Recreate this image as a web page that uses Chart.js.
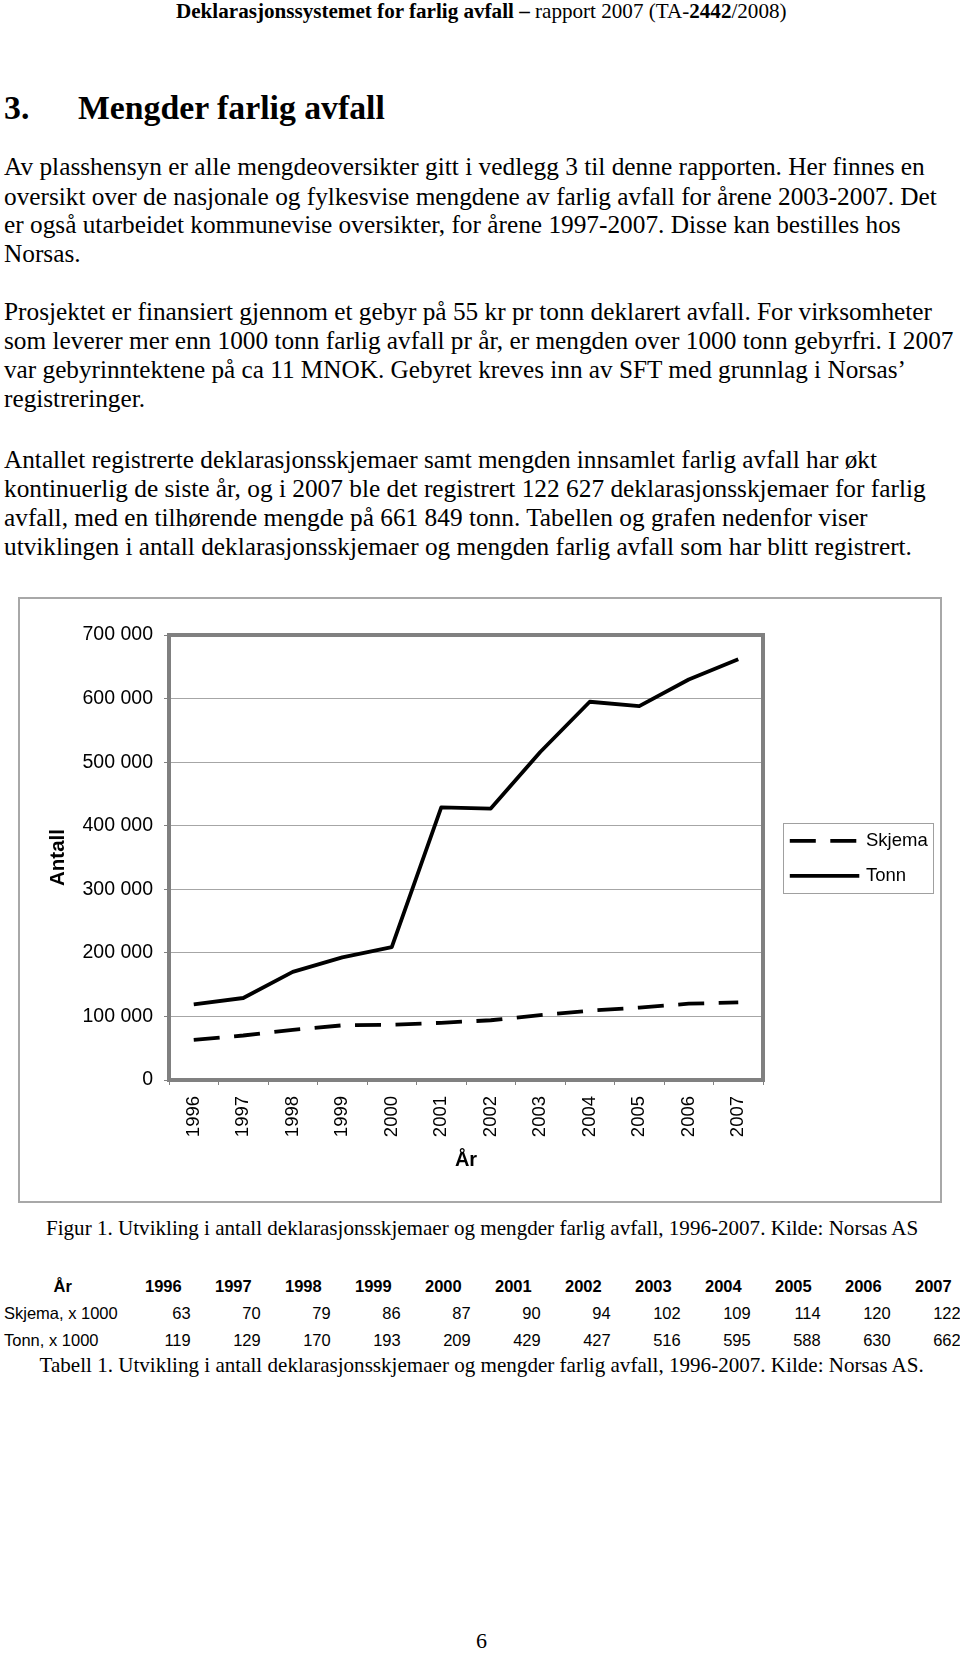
<!DOCTYPE html>
<html>
<head>
<meta charset="utf-8">
<script src="https://cdn.jsdelivr.net/npm/chart.js@4.4.1/dist/chart.umd.min.js"></script>
<style>
html,body{margin:0;padding:0;background:#fff;}
body{width:960px;height:1653px;position:relative;overflow:hidden;color:#000;}
.t{position:absolute;white-space:nowrap;line-height:1;color:#000;}
.serif{font-family:"Liberation Serif","Times New Roman",serif;}
.sans{font-family:"Liberation Sans",Arial,sans-serif;}
#chartWrap{position:absolute;left:19px;top:598px;width:922px;height:604px;}
#frame{position:absolute;left:18px;top:597px;width:924px;height:606px;box-sizing:border-box;border:2px solid #a8a8a8;pointer-events:none;}
</style>
</head>
<body>
<div id="chartWrap"><canvas id="c" width="922" height="604"></canvas></div>
<div id="frame"></div>
<script>
// ---- data ----
const years = ['1996','1997','1998','1999','2000','2001','2002','2003','2004','2005','2006','2007'];
const skjema = [63000, 70000, 79000, 86000, 87000, 90000, 94000, 102000, 109000, 114000, 120000, 122000];
const tonn = [119000, 129000, 170000, 193000, 209000, 429000, 427000, 516000, 595000, 588000, 630000, 662000];
const seriesLabels = ['Skjema', 'Tonn'];
const yTickValues = [0, 100000, 200000, 300000, 400000, 500000, 600000, 700000];
const yTitle = 'Antall';
const xTitle = 'År';
const tableRowLabels = ['Skjema, x 1000', 'Tonn, x 1000'];

const SANS = '"Liberation Sans", Arial, sans-serif';

// ---- page text ----
function makeEl(spec){
  const el = document.createElement('div');
  el.className = 't ' + spec.fam;
  el.innerHTML = spec.html;
  el.style.fontSize = spec.fs + 'px';
  if (spec.bold) el.style.fontWeight = 'bold';
  document.body.appendChild(el);
  return el;
}
function place(el, spec, fs){
  el.style.fontSize = fs + 'px';
  const asc = spec.fam === 'serif' ? 0.8375 : 0.8465;
  const wd = el.getBoundingClientRect().width;
  let left = spec.x;
  if (spec.align === 'right') left = spec.x - wd;
  else if (spec.align === 'center') left = spec.x - wd / 2;
  el.style.left = left + 'px';
  el.style.top = (spec.b - asc * fs) + 'px';
}
function addGroup(specs){
  const els = specs.map(makeEl);
  const fitted = [];
  specs.forEach((s, i) => {
    if (s.w) {
      const wd = els[i].getBoundingClientRect().width;
      s._fs = s.fs * s.w / wd;
      fitted.push(s._fs);
    }
  });
  const avg = fitted.length ? fitted.reduce((a, b) => a + b, 0) / fitted.length : null;
  specs.forEach((s, i) => {
    const fs = s._fs || (s.useAvg && avg ? avg : s.fs);
    place(els[i], s, fs);
  });
}

addGroup([{html:'<b>Deklarasjonssystemet for farlig avfall –</b> rapport 2007 (TA-<b>2442</b>/2008)', x:176, b:18.3, fs:21, fam:'serif', w:611}]);
addGroup([
  {html:'3.', x:4, b:119, fs:33.5, fam:'serif', bold:true, useAvg:true},
  {html:'Mengder farlig avfall', x:78, b:119, fs:33.5, fam:'serif', bold:true, w:307}
]);

const paragraphs = [
  {b0:175.7, lines:[
    ['Av plasshensyn er alle mengdeoversikter gitt i vedlegg 3 til denne rapporten. Her finnes en', 921],
    ['oversikt over de nasjonale og fylkesvise mengdene av farlig avfall for årene 2003-2007. Det', 933],
    ['er også utarbeidet kommunevise oversikter, for årene 1997-2007. Disse kan bestilles hos', 897],
    ['Norsas.', 0]]},
  {b0:319.8, lines:[
    ['Prosjektet er finansiert gjennom et gebyr på 55 kr pr tonn deklarert avfall. For virksomheter', 928],
    ['som leverer mer enn 1000 tonn farlig avfall pr år, er mengden over 1000 tonn gebyrfri. I 2007', 950],
    ['var gebyrinntektene på ca 11 MNOK. Gebyret kreves inn av SFT med grunnlag i Norsas’', 902],
    ['registreringer.', 0]]},
  {b0:468.5, lines:[
    ['Antallet registrerte deklarasjonsskjemaer samt mengden innsamlet farlig avfall har økt', 873],
    ['kontinuerlig de siste år, og i 2007 ble det registrert 122 627 deklarasjonsskjemaer for farlig', 922],
    ['avfall, med en tilhørende mengde på 661 849 tonn. Tabellen og grafen nedenfor viser', 864],
    ['utviklingen i antall deklarasjonsskjemaer og mengden farlig avfall som har blitt registrert.', 908]]}
];
paragraphs.forEach(p => {
  addGroup(p.lines.map((l, i) => ({html:l[0], x:4, b:p.b0 + i * 29, fs:25.3, fam:'serif', w:l[1] || 0, useAvg:true})));
});

addGroup([{html:'Figur 1. Utvikling i antall deklarasjonsskjemaer og mengder farlig avfall, 1996-2007. Kilde: Norsas AS', x:46, b:1235.7, fs:21, fam:'serif', w:872.5}]);
addGroup([{html:'Tabell 1. Utvikling i antall deklarasjonsskjemaer og mengder farlig avfall, 1996-2007. Kilde: Norsas AS.', x:39.5, b:1372.5, fs:21, fam:'serif', w:885}]);
addGroup([{html:'6', x:481.5, b:1648, fs:22, fam:'serif', align:'center'}]);

// ---- table ----
const tbl = [];
tbl.push({html:xTitle, x:62.7, b:1292, fs:16.5, fam:'sans', bold:true, align:'center'});
years.forEach((y, k) => tbl.push({html:y, x:181.7 + 70 * k, b:1292, fs:16.5, fam:'sans', bold:true, align:'right'}));
tbl.push({html:tableRowLabels[0], x:4, b:1319, fs:16.5, fam:'sans'});
skjema.forEach((v, k) => tbl.push({html:String(Math.round(v / 1000)), x:190.7 + 70 * k, b:1319, fs:16.5, fam:'sans', align:'right'}));
tbl.push({html:tableRowLabels[1], x:4, b:1345.7, fs:16.5, fam:'sans'});
tonn.forEach((v, k) => tbl.push({html:String(Math.round(v / 1000)), x:190.7 + 70 * k, b:1345.7, fs:16.5, fam:'sans', align:'right'}));
addGroup(tbl);

// ---- chart ----
const fmt = v => String(v).replace(/\B(?=(\d{3})+(?!\d))/g, ' ');

const frameLegend = {
  id: 'frameLegend',
  afterDraw(chart){
    const ctx = chart.ctx, ca = chart.chartArea;
    ctx.save();
    // plot area border
    ctx.strokeStyle = '#808080';
    ctx.lineWidth = 4;
    ctx.setLineDash([]);
    ctx.strokeRect(ca.left, ca.top, ca.right - ca.left, ca.bottom - ca.top);
    // legend box
    const bw = 150, bh = 70;
    const bx = ca.right + 20.3;
    const by = (ca.top + ca.bottom) / 2 - bh / 2;
    ctx.strokeStyle = '#a0a0a0';
    ctx.lineWidth = 1;
    ctx.strokeRect(Math.round(bx) + 0.5, Math.round(by) + 0.5, bw, bh);
    const offs = [-16.7, 18.3];
    chart.data.datasets.forEach((ds, i) => {
      const y = by + bh / 2 + offs[i];
      ctx.setLineDash(ds.borderDash || []);
      ctx.lineWidth = ds.borderWidth;
      ctx.strokeStyle = ds.borderColor;
      ctx.lineCap = 'butt';
      ctx.beginPath();
      ctx.moveTo(bx + 6.5, y);
      ctx.lineTo(bx + 76, y);
      ctx.stroke();
      ctx.setLineDash([]);
      ctx.fillStyle = '#000';
      ctx.font = '18.5px ' + SANS;
      ctx.textBaseline = 'middle';
      ctx.textAlign = 'left';
      ctx.fillText(ds.label, bx + 82.7, y);
    });
    ctx.restore();
  }
};

new Chart(document.getElementById('c'), {
  type: 'line',
  data: {
    labels: years,
    datasets: [
      {label: seriesLabels[0], data: skjema, borderColor: '#000', borderWidth: 3.8, borderDash: [26, 14.5],
       pointRadius: 0, pointHoverRadius: 0, tension: 0, fill: false, borderJoinStyle: 'round'},
      {label: seriesLabels[1], data: tonn, borderColor: '#000', borderWidth: 3.8,
       pointRadius: 0, pointHoverRadius: 0, tension: 0, fill: false, borderJoinStyle: 'round'}
    ]
  },
  options: {
    responsive: false,
    animation: false,
    devicePixelRatio: 1,
    events: [],
    layout: {padding: {left: 0, top: 37, right: 178, bottom: 0}},
    plugins: {legend: {display: false}, tooltip: {enabled: false}},
    scales: {
      x: {
        type: 'category',
        offset: true,
        grid: {display: true, drawOnChartArea: false, drawTicks: true, tickLength: 5, offset: true, color: '#808080', lineWidth: 1},
        border: {display: false},
        ticks: {minRotation: 90, maxRotation: 90, autoSkip: false, padding: 11, color: '#000',
                font: {family: SANS, size: 18.5}},
        title: {display: true, text: xTitle, color: '#000',
                font: {family: SANS, size: 20, weight: 'bold', lineHeight: 1}, padding: {top: 0, bottom: 32}},
        afterFit(s){ s.height = 122; }
      },
      y: {
        min: yTickValues[0],
        max: yTickValues[yTickValues.length - 1],
        afterBuildTicks(s){ s.ticks = yTickValues.map(v => ({value: v})); },
        ticks: {padding: 11, color: '#000', font: {family: SANS, size: 19.5}, callback: v => fmt(v)},
        grid: {color: '#a6a6a6', lineWidth: 1, tickLength: 5, drawTicks: true, tickColor: '#808080'},
        border: {display: false},
        title: {display: true, text: yTitle, color: '#000',
                font: {family: SANS, size: 20.5, weight: 'bold', lineHeight: 1}, padding: {top: 29, bottom: 0}},
        afterFit(s){ s.width = 150; }
      }
    }
  },
  plugins: [frameLegend]
});
</script>
</body>
</html>
